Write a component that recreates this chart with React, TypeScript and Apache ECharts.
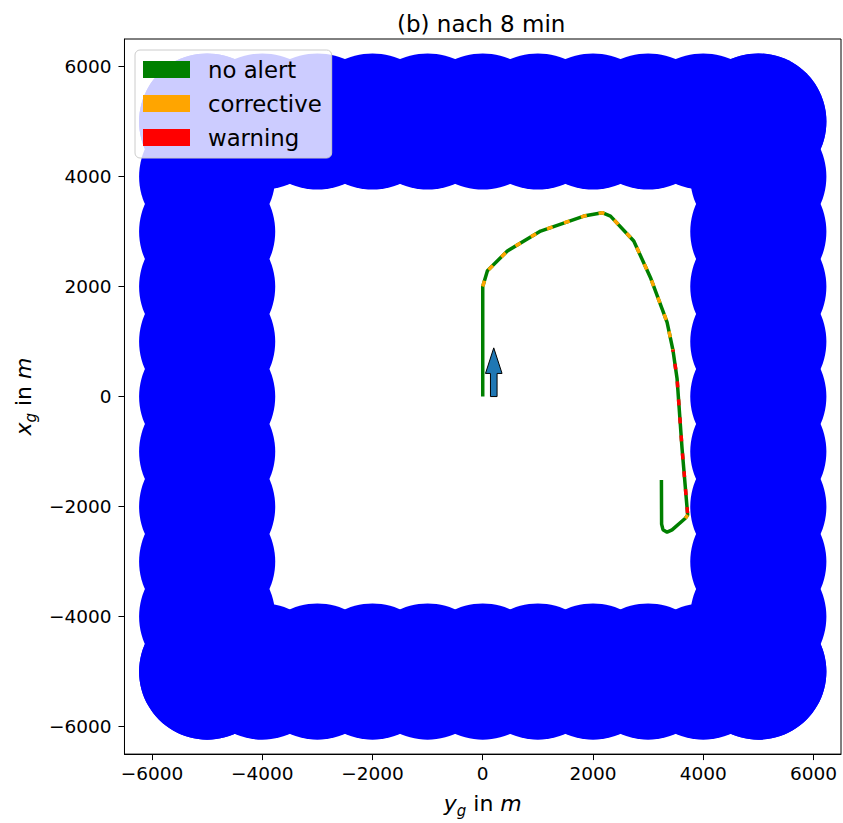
import React, { useEffect, useRef } from "react";
import * as echarts from "echarts";

// ---- data ----
const titleText = "(b) nach 8 min";
const seriesNames = ["no alert", "corrective", "warning"];
const seriesColors = ["#008000", "#FFA500", "#FF0000"];

// tick labels (both axes)
const tickValues = [-6000, -4000, -2000, 0, 2000, 4000, 6000];
const axisMin = -6500;
const axisMax = 6500;

// obstacle circles: centres along the square ring
const ringOffsets = [-5000, -4000, -3000, -2000, -1000, 0, 1000, 2000, 3000, 4000, 5000];
const ringEdge = 5000;
const circleRadius = 1235;

// trajectory (y_g, x_g)
const trackYg = [0, 0, 85, 447, 1050, 1835, 2167, 2318, 2740, 3042, 3345, 3450, 3526, 3616, 3718, 3676, 3435, 3345, 3270, 3245, 3242];
const trackXg = [0, 2000, 2285, 2647, 3009, 3281, 3342, 3281, 2828, 2165, 1350, 850, 323, -944, -2152, -2212, -2424, -2466, -2420, -2320, -1518];
// index ranges of alert states along the track
const correctiveRange = [1, 11];
const warningRange = [11, 14];
const correctiveEndRange = [14, 15];

// heading arrow
const arrowBase = [200, 0];
const arrowShaftLen = 420;
const arrowShaftWidth = 120;
const arrowHeadWidth = 300;
const arrowHeadLen = 465;

const FONT = "DejaVu Sans";

function buildCircles(): number[][] {
  const out: number[][] = [];
  for (const o of ringOffsets) {
    out.push([o, ringEdge]);
    out.push([o, -ringEdge]);
    out.push([ringEdge, o]);
    out.push([-ringEdge, o]);
  }
  return out;
}

function trackSlice(r: number[]): number[][] {
  const out: number[][] = [];
  for (let i = r[0]; i <= r[1]; i++) out.push([trackYg[i], trackXg[i]]);
  return out;
}

export default function App() {
  const ref = useRef<HTMLDivElement>(null);
  useEffect(() => {
    if (!ref.current) return;
    const chart = echarts.init(ref.current, null, { renderer: "svg" });
    const fullTrack = trackSlice([0, trackYg.length - 1]);
    const fmt = (v: number) => String(v).replace("-", "\u2212");
    const nameRich = {
      it: { fontStyle: "italic", fontSize: 22, fontFamily: FONT, color: "#000", lineHeight: 26 },
      up: { fontSize: 22, fontFamily: FONT, color: "#000", lineHeight: 26 },
      sub: { fontStyle: "italic", fontSize: 15, fontFamily: FONT, color: "#000", lineHeight: 15, padding: [15, 0, 0, 0] },
    };
    const axisCommon = {
      type: "value" as const,
      min: axisMin,
      max: axisMax,
      splitLine: { show: false },
      axisLine: { show: true, onZero: false, lineStyle: { color: "#000", width: 1 } },
      axisTick: { show: true, length: 6, lineStyle: { color: "#000" }, customValues: tickValues },
      axisLabel: { fontSize: 18.5, fontFamily: FONT, color: "#000", formatter: fmt, customValues: tickValues },
      nameLocation: "middle" as const,
      nameTextStyle: { fontSize: 22, fontFamily: FONT, color: "#000", rich: nameRich },
    };
    const lineW = 3.5;
    const option: any = {
      animation: false,
      backgroundColor: "#fff",
      title: {
        text: titleText,
        left: 397,
        top: 12,
        padding: 0,
        textStyle: { fontSize: 23, fontWeight: "normal", fontFamily: FONT, color: "#000" },
      },
      grid: {
        left: 123,
        top: 39,
        width: 718,
        height: 717,
        show: true,
        borderColor: "#000",
        borderWidth: 1,
        backgroundColor: "transparent",
      },
      legend: {
        data: seriesNames,
        orient: "vertical",
        left: 135,
        top: 50,
        icon: "rect",
        itemWidth: 47,
        itemHeight: 17,
        itemGap: 11,
        selectedMode: false,
        padding: [8, 10, 9, 8],
        backgroundColor: "rgba(255,255,255,0.8)",
        borderColor: "#cccccc",
        borderWidth: 1,
        borderRadius: 5,
        itemStyle: { borderWidth: 0 },
        textStyle: { fontSize: 22.8, fontFamily: FONT, color: "#000", padding: [0, 0, 0, 13] },
      },
      xAxis: {
        ...axisCommon,
        axisLabel: { ...axisCommon.axisLabel, margin: 10 },
        name: "{it|y}{sub|g}{up| in }{it|m}",
        nameGap: 28,
      },
      yAxis: {
        ...axisCommon,
        axisLabel: { ...axisCommon.axisLabel, margin: 13 },
        name: "{it|x}{sub|g}{up| in }{it|m}",
        nameGap: 80,
        nameRotate: 90,
      },
      series: [
        {
          type: "custom",
          name: "obstacles",
          data: buildCircles(),
          silent: true,
          renderItem: (params: any, api: any) => {
            const c = api.coord([api.value(0), api.value(1)]);
            const r = api.size([circleRadius, 0])[0];
            return { type: "circle", shape: { cx: c[0], cy: c[1], r }, style: { fill: "#0000FF" } };
          },
        },
        {
          type: "line",
          name: seriesNames[0],
          data: fullTrack,
          showSymbol: false,
          symbol: "none",
          itemStyle: { color: seriesColors[0] },
          lineStyle: { color: seriesColors[0], width: lineW },
        },
        {
          type: "line",
          name: seriesNames[1],
          data: trackSlice(correctiveRange),
          showSymbol: false,
          symbol: "none",
          itemStyle: { color: seriesColors[1] },
          lineStyle: { color: seriesColors[1], width: lineW, type: [6, 12] },
        },
        {
          type: "line",
          name: seriesNames[2],
          data: trackSlice(warningRange),
          showSymbol: false,
          symbol: "none",
          itemStyle: { color: seriesColors[2] },
          lineStyle: { color: seriesColors[2], width: lineW, type: [6, 12], dashOffset: 4 },
        },
        {
          type: "line",
          name: seriesNames[1],
          data: trackSlice(correctiveEndRange),
          showSymbol: false,
          symbol: "none",
          itemStyle: { color: seriesColors[1] },
          lineStyle: { color: seriesColors[1], width: lineW },
        },
        {
          type: "custom",
          name: "heading",
          data: [arrowBase],
          silent: true,
          renderItem: (params: any, api: any) => {
            const bx = api.value(0);
            const by = api.value(1);
            const sw = arrowShaftWidth / 2;
            const hw = arrowHeadWidth / 2;
            const pts = [
              [bx - sw, by],
              [bx - sw, by + arrowShaftLen],
              [bx - hw, by + arrowShaftLen],
              [bx, by + arrowShaftLen + arrowHeadLen],
              [bx + hw, by + arrowShaftLen],
              [bx + sw, by + arrowShaftLen],
              [bx + sw, by],
            ].map((p) => api.coord(p));
            return {
              type: "polygon",
              shape: { points: pts },
              style: { fill: "#1f77b4", stroke: "#000", lineWidth: 1 },
            };
          },
        },
      ],
    };
    chart.setOption(option);
    return () => chart.dispose();
  }, []);
  return (
    <div
      ref={ref}
      style={{ position: "fixed", left: 0, top: 0, width: 843, height: 823, background: "#fff" }}
    />
  );
}
